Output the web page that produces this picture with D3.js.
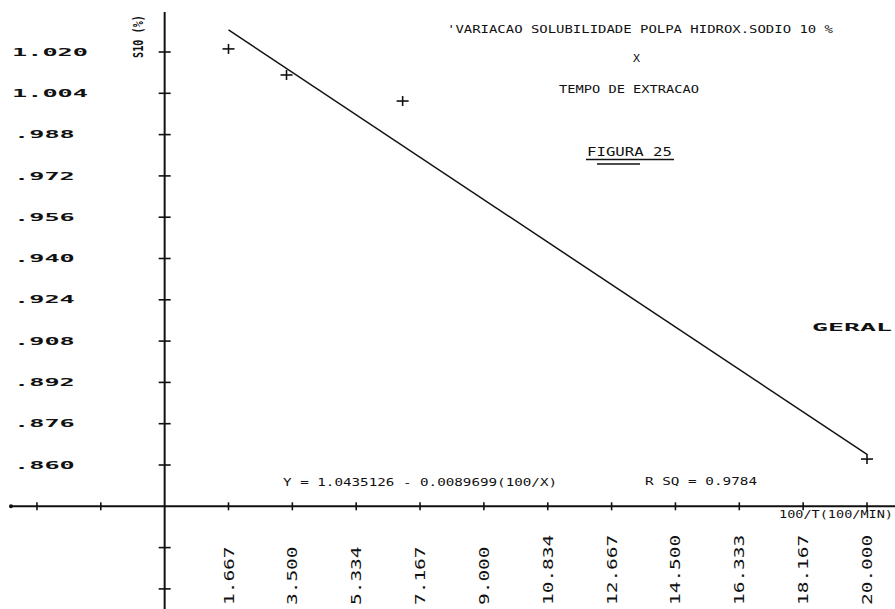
<!DOCTYPE html>
<html>
<head>
<meta charset="utf-8">
<script src="https://cdn.jsdelivr.net/npm/d3@7"></script>
<style>
  html, body { margin: 0; padding: 0; background: #fff; }
  svg { display: block; }
  text { font-family: "DejaVu Sans Mono", "Liberation Mono", monospace; fill: #111; }
</style>
</head>
<body>
<script>
// Solubility in 10% NaOH vs. extraction time (100/T)
const xTickLabels = ["1.667", "3.500", "5.334", "7.167", "9.000", "10.834", "12.667", "14.500", "16.333", "18.167", "20.000"];
const yTickLabels = ["1.020", "1.004", ".988", ".972", ".956", ".940", ".924", ".908", ".892", ".876", ".860"];
const xExtraTicks = [-2.0, -3.833];
const yExtraTicks = [0.828, 0.812];

// measured points: x = 100/T, y = S10
const pointX = [1.667, 3.333, 6.667, 20.0];
const pointY = [1.0212, 1.0111, 1.0010, 0.8623];

// least-squares fit
const intercept = 1.0435126;
const slope = -0.0089699;
const rSquared = 0.9784;

const W = 895, H = 609;
const svg = d3.select("body").append("svg").attr("width", W).attr("height", H);

const xTicks = xTickLabels.map(Number);
const yTicks = yTickLabels.map(Number);
const xStep = (xTicks[xTicks.length - 1] - xTicks[0]) / (xTicks.length - 1);
const yStep = yTicks[0] - yTicks[1];

const x = d3.scaleLinear().domain([xTicks[0], xTicks[xTicks.length - 1]]).range([228.5, 867]);
const y = d3.scaleLinear().domain([yTicks[yTicks.length - 1], yTicks[0]]).range([465, 52]);

// axes cross one step before the first tick
const x0 = x(xTicks[0] - xStep);
const y0 = y(yTicks[yTicks.length - 1] - yStep);

const ink = "#111";

// stretched plotter-style text
function label(str, px, py, len, size, rotate, weight) {
  const t = svg.append("text")
    .attr("x", px).attr("y", py)
    .attr("font-size", size)
    .attr("textLength", len)
    .attr("lengthAdjust", "spacingAndGlyphs")
    .text(str);
  if (weight) t.attr("font-weight", weight);
  if (rotate) t.attr("transform", `rotate(${rotate},${px},${py})`);
  return t;
}

// axes
svg.append("line").attr("x1", 10).attr("x2", W).attr("y1", y0).attr("y2", y0)
  .attr("stroke", ink).attr("stroke-width", 2);
svg.append("line").attr("x1", x0).attr("x2", x0).attr("y1", 12).attr("y2", H)
  .attr("stroke", ink).attr("stroke-width", 2);
svg.append("circle").attr("cx", 11).attr("cy", y0).attr("r", 2).attr("fill", ink);

// x ticks
svg.selectAll(".xt").data(xTicks.concat(xExtraTicks)).join("line")
  .attr("x1", d => x(d)).attr("x2", d => x(d))
  .attr("y1", y0 - 4).attr("y2", y0 + 4)
  .attr("stroke", ink).attr("stroke-width", 1.6);

// y ticks
svg.selectAll(".yt").data(yTicks.concat(yExtraTicks)).join("line")
  .attr("x1", x0 - 6).attr("x2", x0 + 6)
  .attr("y1", d => y(d)).attr("y2", d => y(d))
  .attr("stroke", ink).attr("stroke-width", 1.6);

// y tick labels
yTickLabels.forEach((s, i) => {
  const startX = s[0] === "." ? 14 : 12;
  label(s, startX, y(yTicks[i]) + 3.6, s.length * 15.2, 10, 0, "bold");
});

// x tick labels, vertical
xTickLabels.forEach((s, i) => {
  label(s, x(xTicks[i]) + 5, 605, s.length * 11.7, 14, -90);
});

// regression line
const xr = d3.extent(pointX);
svg.append("line")
  .attr("x1", x(xr[0])).attr("y1", y(intercept + slope * xr[0]))
  .attr("x2", x(xr[1])).attr("y2", y(intercept + slope * xr[1]))
  .attr("stroke", ink).attr("stroke-width", 1.5);

// point markers
const pts = pointX.map((v, i) => [v, pointY[i]]);
const mk = svg.selectAll(".pt").data(pts).join("g")
  .attr("transform", d => `translate(${x(d[0])},${y(d[1])})`);
mk.append("line").attr("x1", -6).attr("x2", 6).attr("y1", 0).attr("y2", 0)
  .attr("stroke", ink).attr("stroke-width", 1.6);
mk.append("line").attr("x1", 0).attr("x2", 0).attr("y1", -5).attr("y2", 5)
  .attr("stroke", ink).attr("stroke-width", 1.6);

// titles and annotations
label("'VARIACAO SOLUBILIDADE POLPA HIDROX.SODIO 10 %", 447, 33, 386, 11);
label("X", 633, 62, 7, 11);
label("TEMPO DE EXTRACAO", 559, 93, 140, 11);
label("FIGURA 25", 587, 156, 85, 12);
svg.append("line").attr("x1", 586).attr("x2", 674).attr("y1", 159.5).attr("y2", 159.5)
  .attr("stroke", ink).attr("stroke-width", 1.3);
svg.append("line").attr("x1", 597).attr("x2", 640).attr("y1", 164).attr("y2", 164)
  .attr("stroke", ink).attr("stroke-width", 1.3);

label("S10 (%)", 143, 58, 43, 14, -90, "bold");

label("Y = 1.0435126 - 0.0089699(100/X)", 283, 486, 274, 11);
label("R SQ = " + rSquared.toFixed(4), 645, 485, 112, 11);
label("100/T(100/MIN)", 779, 518, 114, 11);
label("GERAL", 812, 331, 80, 11, 0, "bold");
</script>
</body>
</html>
